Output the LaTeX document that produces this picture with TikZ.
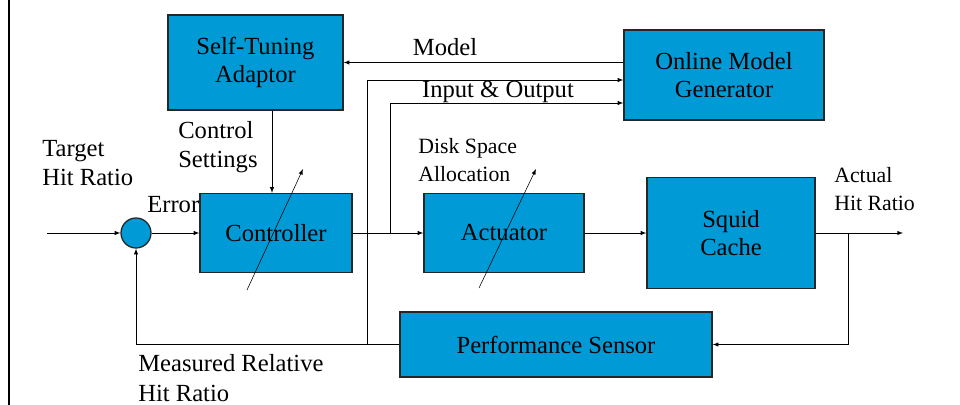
\documentclass[tikz,border=0pt]{standalone}
\usepackage{fontspec}
\setmainfont{Liberation Serif}
\usetikzlibrary{calc}

\definecolor{boxblue}{RGB}{0,155,214}

\tikzset{
    >=latex,
    block/.style={draw=black!85,line width=0.9pt,fill=boxblue,align=center,
        font=\fontsize{17.5}{20}\selectfont,inner sep=2pt},
    lbl/.style={align=left,anchor=west,inner sep=0pt,
        font=\fontsize{17.5}{21}\selectfont},
    smalllbl/.style={lbl,font=\fontsize{15.5}{20}\selectfont},
}

\begin{document}
\begin{tikzpicture}[x=0.025cm,y=-0.025cm]
    \useasboundingbox (0,0) rectangle (960,405);
    \fill[white] (0,0) rectangle (960,405);
    \draw[line width=1.5pt] (9,0) -- (9,405);

    % blocks
    \node[block,minimum width=4.375cm,minimum height=2.375cm] (sta) at (255.5,62.5) {Self-Tuning\\Adaptor};
    \node[block,minimum width=5cm,minimum height=2.25cm] (omg) at (724,75) {Online Model\\Generator};
    \node[block,minimum width=3.8cm,minimum height=1.975cm] (ctrl) at (276,233) {Controller};
    \node[block,minimum width=4cm,minimum height=1.975cm] (act) at (504,233) {Actuator};
    \node[block,minimum width=4.2cm,minimum height=2.775cm] (squid) at (731,233) {Squid\\Cache};
    \node[block,minimum width=7.8cm,minimum height=1.625cm] (ps) at (556,344.5) {Performance Sensor};
    \node[draw=black!85,line width=0.9pt,fill=boxblue,circle,minimum size=0.75cm,inner sep=0pt] (sum) at (136,233) {};

    \coordinate (in) at (47,233);
    \coordinate (out) at (903,233);
    \coordinate (tapc) at (390,233);
    \coordinate (tapo) at (848,233);
    \coordinate (tapf) at (367,344.5);
    \coordinate (fb) at (sum.south |- ps.west);

    % forward path
    \draw[->] (in) -- (sum.west);
    \draw[->] (sum.east) -- (ctrl.west);
    \draw[->] (ctrl.east) -- (act.west);
    \draw[->] (act.east) -- (squid.west);
    \draw[->] (squid.east) -- (out);

    % feedback
    \draw[->] (tapo) |- (ps.east);
    \draw[line width=1.4pt] (ps.west) -- (fb);
    \draw[->] (fb) -- (sum.south);

    % adaptation loop
    \draw[->] (omg.west |- sta.east) -- (sta.east);
    \draw[->] (tapf) |- (omg.west |- 0,80);
    \draw[->] (tapc) |- (omg.west |- 0,103);
    \draw[->] (sta.south -| 272,0) -- (ctrl.north -| 272,0);

    % tunable blocks
    \draw[->] ($(ctrl)+(-29,57)$) -- ($(ctrl)+(27,-64)$);
    \draw[->] ($(act)+(-25,55)$) -- ($(act)+(32,-64)$);

    % labels
    \node[lbl,anchor=center] (lmodel) at (445,47) {Model};
    \node[lbl,anchor=center] (lio) at (498,92) {Input \& Output};
    \node[lbl] (lcs) at (178,147) {Control\\Settings};
    \node[lbl] (ltarget) at (42,163) {Target\\Hit Ratio};
    \node[lbl] (lerr) at (147,205) {Error};
    \node[smalllbl] (ldisk) at (418,160) {Disk Space\\Allocation};
    \node[smalllbl] (lactual) at (834,189) {Actual\\Hit Ratio};
    \node[lbl] (lmeas) at (138,378) {Measured Relative\\Hit Ratio};
\end{tikzpicture}
\end{document}
